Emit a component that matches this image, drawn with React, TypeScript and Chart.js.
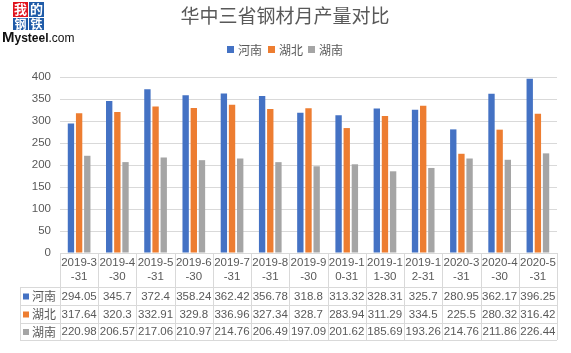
import React, { useEffect, useRef } from "react";
import { Chart, registerables } from "chart.js";

Chart.register(...registerables);

const categories = [
  "2019-3-31", "2019-4-30", "2019-5-31", "2019-6-30", "2019-7-31", "2019-8-31",
  "2019-9-30", "2019-10-31", "2019-11-30", "2019-12-31", "2020-3-31", "2020-4-30", "2020-5-31",
];
const headerLines = [
  ["2019-3", "-31"], ["2019-4", "-30"], ["2019-5", "-31"], ["2019-6", "-30"], ["2019-7", "-31"], ["2019-8", "-31"],
  ["2019-9", "-30"], ["2019-1", "0-31"], ["2019-1", "1-30"], ["2019-1", "2-31"], ["2020-3", "-31"], ["2020-4", "-30"], ["2020-5", "-31"],
];
const henan = [294.05, 345.7, 372.4, 358.24, 362.42, 356.78, 318.8, 313.32, 328.31, 325.7, 280.95, 362.17, 396.25];
const hubei = [317.64, 320.3, 332.91, 329.8, 336.96, 327.34, 328.7, 283.94, 311.29, 334.5, 225.5, 280.32, 316.42];
const hunan = [220.98, 206.57, 217.06, 210.97, 214.76, 206.49, 197.09, 201.62, 185.69, 193.26, 214.76, 211.86, 226.44];
const henanText = ["294.05", "345.7", "372.4", "358.24", "362.42", "356.78", "318.8", "313.32", "328.31", "325.7", "280.95", "362.17", "396.25"];
const hubeiText = ["317.64", "320.3", "332.91", "329.8", "336.96", "327.34", "328.7", "283.94", "311.29", "334.5", "225.5", "280.32", "316.42"];
const hunanText = ["220.98", "206.57", "217.06", "210.97", "214.76", "206.49", "197.09", "201.62", "185.69", "193.26", "214.76", "211.86", "226.44"];
const seriesNames = ["河南", "湖北", "湖南"];
const colors = ["#4472C4", "#ED7D31", "#A5A5A5"];
const title = "华中三省钢材月产量对比";

const TEXT = "#595959";
const GRID = "#D9D9D9";
const CJK = '"Noto Sans CJK SC", "Noto Sans", sans-serif';
const NUM = '"Liberation Sans", Arial, sans-serif';

const decorPlugin = {
  id: "decor",
  afterDraw(chart: any) {
    const ctx = chart.ctx as CanvasRenderingContext2D;
    const area = chart.chartArea;
    const xs = chart.scales.x;
    ctx.save();

    // Logo
    ctx.fillStyle = "#E0141E";
    ctx.fillRect(13, 2, 15, 15);
    ctx.fillStyle = "#1F5BA8";
    ctx.fillRect(29, 2, 15, 15);
    ctx.fillRect(13, 18, 15, 12);
    ctx.fillRect(29, 18, 15, 12);
    ctx.fillStyle = "#FFFFFF";
    ctx.font = `bold 13px ${CJK}`;
    ctx.textAlign = "center";
    ctx.textBaseline = "middle";
    ctx.fillText("我", 20.5, 9.5);
    ctx.fillText("的", 36.5, 9.5);
    ctx.font = `bold 12px ${CJK}`;
    ctx.fillText("钢", 20.5, 24);
    ctx.fillText("铁", 36.5, 24);
    ctx.fillStyle = "#111111";
    ctx.textAlign = "left";
    ctx.textBaseline = "alphabetic";
    ctx.font = `bold 15px ${NUM}`;
    ctx.fillText("M", 2, 42);
    const mw = ctx.measureText("M").width;
    ctx.font = `bold 12px ${NUM}`;
    ctx.fillText("ysteel", 2 + mw, 42);
    const yw = ctx.measureText("ysteel").width;
    ctx.font = `12px ${NUM}`;
    ctx.fillText(".com", 2 + mw + yw, 42);

    // Title
    ctx.fillStyle = TEXT;
    ctx.font = `19px ${CJK}`;
    ctx.textAlign = "center";
    ctx.textBaseline = "middle";
    ctx.fillText(title, 285, 16);

    // Legend
    ctx.font = `12px ${CJK}`;
    ctx.textAlign = "left";
    const legendX = [227, 268, 308];
    for (let i = 0; i < 3; i++) {
      ctx.fillStyle = colors[i];
      ctx.fillRect(legendX[i], 46, 7, 7);
      ctx.fillStyle = TEXT;
      ctx.fillText(seriesNames[i], legendX[i] + 11, 50);
    }

    // Data table
    const n = categories.length;
    const left = area.left;
    const right = area.right;
    const colW = (right - left) / n;
    const top = area.bottom;
    const headBottom = 287;
    const rowBounds = [287, 305, 323, 340];
    const labelLeft = 20;

    ctx.strokeStyle = GRID;
    ctx.lineWidth = 1;
    ctx.beginPath();
    ctx.moveTo(left, top + 0.5);
    ctx.lineTo(right, top + 0.5);
    for (const yb of rowBounds) {
      ctx.moveTo(labelLeft, yb + 0.5);
      ctx.lineTo(right, yb + 0.5);
    }
    for (let i = 0; i <= n; i++) {
      const x = Math.round(left + i * colW) + 0.5;
      ctx.moveTo(x, top);
      ctx.lineTo(x, rowBounds[3]);
    }
    ctx.moveTo(labelLeft + 0.5, headBottom);
    ctx.lineTo(labelLeft + 0.5, rowBounds[3]);
    ctx.stroke();

    ctx.fillStyle = TEXT;
    ctx.textAlign = "center";
    ctx.textBaseline = "middle";
    ctx.font = `11.5px ${NUM}`;
    const texts = [henanText, hubeiText, hunanText];
    for (let i = 0; i < n; i++) {
      const cx = xs.getPixelForValue(i);
      ctx.fillText(headerLines[i][0], cx, 263);
      ctx.fillText(headerLines[i][1], cx, 277);
      for (let r = 0; r < 3; r++) {
        ctx.fillText(texts[r][i], cx, (rowBounds[r] + rowBounds[r + 1]) / 2 + 0.5);
      }
    }
    ctx.textAlign = "left";
    for (let r = 0; r < 3; r++) {
      const cy = (rowBounds[r] + rowBounds[r + 1]) / 2 + 0.5;
      ctx.fillStyle = colors[r];
      ctx.fillRect(23, cy - 3, 6, 6);
      ctx.fillStyle = TEXT;
      ctx.font = `12px ${CJK}`;
      ctx.fillText(seriesNames[r], 32, cy);
    }
    ctx.restore();
  },
};

export default function App() {
  const ref = useRef<HTMLCanvasElement>(null);
  useEffect(() => {
    if (!ref.current) return;
    const chart = new Chart(ref.current, {
      type: "bar",
      data: {
        labels: categories,
        datasets: [
          { label: seriesNames[0], data: henan, backgroundColor: colors[0] },
          { label: seriesNames[1], data: hubei, backgroundColor: colors[1] },
          { label: seriesNames[2], data: hunan, backgroundColor: colors[2] },
        ],
      },
      options: {
        animation: false,
        responsive: false,
        maintainAspectRatio: false,
        layout: { padding: { left: 0, right: 14, top: 77, bottom: 100 } },
        datasets: { bar: { categoryPercentage: 0.64, barPercentage: 0.78 } },
        plugins: {
          legend: { display: false },
          title: { display: false },
          tooltip: { enabled: false },
        },
        scales: {
          x: { display: false },
          y: {
            min: 0,
            max: 400,
            afterFit: (s: any) => { s.width = 60; },
            border: { display: false },
            grid: { color: GRID, drawTicks: false, lineWidth: 1 },
            ticks: {
              stepSize: 50,
              padding: 9,
              color: TEXT,
              font: { family: NUM, size: 11.5 },
            },
          },
        },
      },
      plugins: [decorPlugin],
    });
    return () => chart.destroy();
  }, []);
  return (
    <div style={{ position: "absolute", left: 0, top: 0, width: 571, height: 353, background: "#fff" }}>
      <canvas ref={ref} width={571} height={353} style={{ width: 571, height: 353 }} />
    </div>
  );
}
